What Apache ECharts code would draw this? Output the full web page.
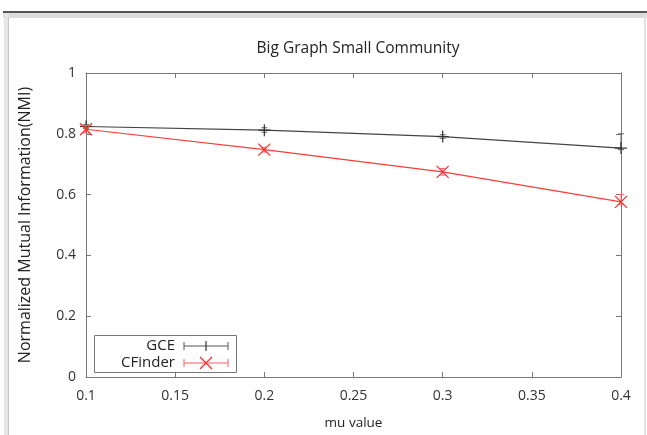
<!DOCTYPE html>
<html>
<head>
<meta charset="utf-8">
<script src="https://cdn.jsdelivr.net/npm/echarts@6/dist/echarts.min.js"></script>
<style>
html, body { margin: 0; padding: 0; background: #fff; }
#main { width: 647px; height: 435px; }
</style>
</head>
<body>
<div id="main"></div>
<script>
// mu values
var muValues = [0.1, 0.2, 0.3, 0.4];
var xTicks = [0.1, 0.15, 0.2, 0.25, 0.3, 0.35, 0.4];

// GCE
var gceNmi = [0.824, 0.812, 0.791, 0.753];
var gceLow = [0.818, 0.805, 0.785, 0.748];
var gceHigh = [0.830, 0.820, 0.797, 0.800];

// CFinder
var cfNmi = [0.815, 0.748, 0.675, 0.576];
var cfLow = [0.803, 0.740, 0.664, 0.568];
var cfHigh = [0.827, 0.756, 0.686, 0.600];

var FONT = 'Open Sans';
var BORDER = '#777';

function pairs(xs, ys) {
	var out = [];
	for(var i = 0; i < xs.length; i++) {
		out.push([xs[i], ys[i]]);
	}
	return out;
}

function errData(xs, ys, lo, hi) {
	var out = [];
	for(var i = 0; i < xs.length; i++) {
		out.push([xs[i], ys[i], lo[i], hi[i]]);
	}
	return out;
}

// error bar + point marker, drawn through the axes
function makeRender(color, barColor, mark) {
	return function(params, api) {
		var p = api.coord([api.value(0), api.value(1)]);
		var lo = api.coord([api.value(0), api.value(2)]);
		var hi = api.coord([api.value(0), api.value(3)]);
		var c = 3;
		var kids = [
			{ type: 'line', shape: { x1: lo[0], y1: lo[1], x2: hi[0], y2: hi[1] }, style: { stroke: barColor, lineWidth: 1 } },
			{ type: 'line', shape: { x1: lo[0] - c, y1: lo[1], x2: lo[0] + c, y2: lo[1] }, style: { stroke: barColor, lineWidth: 1 } },
			{ type: 'line', shape: { x1: hi[0] - c, y1: hi[1], x2: hi[0] + c, y2: hi[1] }, style: { stroke: barColor, lineWidth: 1 } }
		];
		var s = 6;
		if(mark == 'plus') {
			kids.push({ type: 'line', shape: { x1: p[0] - s, y1: p[1], x2: p[0] + s, y2: p[1] }, style: { stroke: color, lineWidth: 1.2 } });
			kids.push({ type: 'line', shape: { x1: p[0], y1: p[1] - s, x2: p[0], y2: p[1] + s }, style: { stroke: color, lineWidth: 1.2 } });
		} else {
			kids.push({ type: 'line', shape: { x1: p[0] - s, y1: p[1] - s, x2: p[0] + s, y2: p[1] + s }, style: { stroke: color, lineWidth: 1.2 } });
			kids.push({ type: 'line', shape: { x1: p[0] - s, y1: p[1] + s, x2: p[0] + s, y2: p[1] - s }, style: { stroke: color, lineWidth: 1.2 } });
		}
		return { type: 'group', children: kids };
	};
}

function xAxisCfg(pos, showLabel) {
	return {
		type: 'value',
		position: pos,
		min: 0.1,
		max: 0.4,
		interval: 0.05,
		axisLine: { show: true, onZero: false, lineStyle: { color: BORDER, width: 1 } },
		axisTick: { show: true, inside: true, length: 5, lineStyle: { color: BORDER } },
		splitLine: { show: false },
		axisLabel: {
			show: showLabel,
			margin: 12,
			color: '#333',
			fontFamily: FONT,
			fontSize: 14,
			formatter: function(v) { return String(Math.round(v * 100) / 100); }
		},
		name: showLabel ? 'mu value' : '',
		nameLocation: 'middle',
		nameGap: 39,
		nameTextStyle: { color: '#222', fontFamily: FONT, fontSize: 13.5 }
	};
}

function yAxisCfg(pos, showLabel) {
	return {
		type: 'value',
		position: pos,
		min: 0,
		max: 1,
		interval: 0.2,
		axisLine: { show: true, onZero: false, lineStyle: { color: BORDER, width: 1 } },
		axisTick: { show: true, inside: true, length: 5, lineStyle: { color: BORDER } },
		splitLine: { show: false },
		axisLabel: {
			show: showLabel,
			margin: 10,
			color: '#333',
			fontFamily: FONT,
			fontSize: 14,
			formatter: function(v) { return String(Math.round(v * 10) / 10); }
		},
		name: showLabel ? 'Normalized Mutual Information(NMI)' : '',
		nameLocation: 'middle',
		nameGap: 53,
		nameTextStyle: { color: '#222', fontFamily: FONT, fontSize: 16 }
	};
}

var myChart = echarts.init(document.getElementById('main'), null, { renderer: 'canvas' });
myChart.setOption({
	backgroundColor: '#fff',
	animation: false,
	title: {
		text: 'Big Graph Small Community',
		left: 353,
		textAlign: 'center',
		top: 36,
		textStyle: { color: '#222', fontFamily: FONT, fontSize: 15.5, fontWeight: 'normal' }
	},
	grid: { left: 86, right: 26, top: 73, bottom: 56 },
	xAxis: [xAxisCfg('bottom', true), xAxisCfg('top', false)],
	yAxis: [yAxisCfg('left', true), yAxisCfg('right', false)],
	series: [{
		name: 'GCE',
		type: 'line',
		data: pairs(muValues, gceNmi),
		showSymbol: false,
		lineStyle: { color: '#444', width: 1.2 },
		z: 3
	}, {
		name: 'CFinder',
		type: 'line',
		data: pairs(muValues, cfNmi),
		showSymbol: false,
		lineStyle: { color: '#ff3b3b', width: 1.2 },
		z: 3
	}, {
		name: 'GCE err',
		type: 'custom',
		data: errData(muValues, gceNmi, gceLow, gceHigh),
		renderItem: makeRender('#333', '#666', 'plus'),
		z: 4
	}, {
		name: 'CFinder err',
		type: 'custom',
		data: errData(muValues, cfNmi, cfLow, cfHigh),
		renderItem: makeRender('#ff2a2a', '#ff6a6a', 'cross'),
		z: 4
	}],
	graphic: [
		// window frame
		{ type: 'rect', shape: { x: 3, y: 11, width: 644, height: 2 }, style: { fill: '#555' }, silent: true },
		{ type: 'rect', shape: { x: 3, y: 13, width: 644, height: 5 }, style: { fill: '#dcdcdc' }, silent: true },
		{ type: 'rect', shape: { x: 4, y: 13, width: 5, height: 422 }, style: { fill: '#e6e6e6' }, silent: true },
		{ type: 'rect', shape: { x: 8, y: 17, width: 1, height: 418 }, style: { fill: '#c8c8c8' }, silent: true },
		{ type: 'rect', shape: { x: 644, y: 13, width: 2, height: 422 }, style: { fill: '#e2e2e2' }, silent: true },
		// legend box
		{ type: 'rect', shape: { x: 94.5, y: 335.5, width: 142, height: 37 }, style: { fill: '#fff', stroke: BORDER, lineWidth: 1 }, z: 10 },
		{ type: 'text', x: 175, y: 346, style: { text: 'GCE', fill: '#222', font: '15px "Open Sans"', textAlign: 'right', textVerticalAlign: 'middle' }, z: 11 },
		{ type: 'text', x: 175, y: 363, style: { text: 'CFinder', fill: '#222', font: '15px "Open Sans"', textAlign: 'right', textVerticalAlign: 'middle' }, z: 11 },
		{ type: 'line', shape: { x1: 184, y1: 346, x2: 228, y2: 346 }, style: { stroke: '#555', lineWidth: 1 }, z: 11 },
		{ type: 'line', shape: { x1: 184, y1: 342, x2: 184, y2: 350 }, style: { stroke: '#555', lineWidth: 1 }, z: 11 },
		{ type: 'line', shape: { x1: 228, y1: 342, x2: 228, y2: 350 }, style: { stroke: '#555', lineWidth: 1 }, z: 11 },
		{ type: 'line', shape: { x1: 206, y1: 341, x2: 206, y2: 351 }, style: { stroke: '#333', lineWidth: 1.2 }, z: 11 },
		{ type: 'line', shape: { x1: 184, y1: 363, x2: 228, y2: 363 }, style: { stroke: '#ff5a5a', lineWidth: 1 }, z: 11 },
		{ type: 'line', shape: { x1: 184, y1: 359, x2: 184, y2: 367 }, style: { stroke: '#ff5a5a', lineWidth: 1 }, z: 11 },
		{ type: 'line', shape: { x1: 228, y1: 359, x2: 228, y2: 367 }, style: { stroke: '#ff5a5a', lineWidth: 1 }, z: 11 },
		{ type: 'line', shape: { x1: 200, y1: 357, x2: 212, y2: 369 }, style: { stroke: '#ff2a2a', lineWidth: 1.2 }, z: 11 },
		{ type: 'line', shape: { x1: 200, y1: 369, x2: 212, y2: 357 }, style: { stroke: '#ff2a2a', lineWidth: 1.2 }, z: 11 }
	]
});
</script>
</body>
</html>
